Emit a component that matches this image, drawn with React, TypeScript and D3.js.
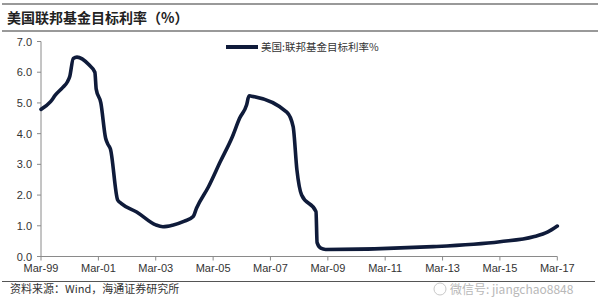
import React from "react";
import * as d3 from "d3";

const dates: string[] = [
  "1999-03-01", "1999-07-01", "1999-09-01", "1999-12-01", "2000-02-01", "2000-03-01",
  "2000-04-15", "2000-06-01", "2000-11-01", "2001-01-15", "2001-02-01", "2001-04-01",
  "2001-06-01", "2001-07-01", "2001-08-01", "2001-11-01", "2001-12-15", "2002-07-01",
  "2003-03-01", "2003-06-01", "2003-10-01", "2004-03-01", "2004-06-20", "2004-08-01",
  "2005-01-01", "2005-06-01", "2005-11-01", "2006-02-01", "2006-05-01", "2006-06-01",
  "2006-07-01", "2007-09-25", "2007-12-15", "2008-02-01", "2008-04-01", "2008-10-01",
  "2008-10-15", "2008-12-01", "2009-02-01", "2012-11-01", "2015-03-01", "2016-05-01",
  "2016-11-01", "2017-03-01",
];
const values: number[] = [
  4.79, 5.04, 5.26, 5.5, 5.69, 5.86,
  6.45, 6.49, 6.24, 6.0, 5.45, 5.0,
  3.85, 3.65, 3.5, 1.84, 1.73, 1.45,
  1.03, 0.97, 1.02, 1.15, 1.3, 1.57,
  2.27, 3.09, 3.9, 4.5, 4.93, 5.23,
  5.22, 4.7, 4.23, 2.82, 2.0, 1.46,
  0.45, 0.27, 0.23, 0.32, 0.48, 0.64,
  0.8, 0.99,
];
const xTickLabels: string[] = [
  "Mar-99", "Mar-01", "Mar-03", "Mar-05", "Mar-07", "Mar-09", "Mar-11", "Mar-13", "Mar-15", "Mar-17",
];
const yTicks: number[] = [0, 1, 2, 3, 4, 5, 6, 7];
const seriesName = "美国:联邦基金目标利率%";
const title = "美国联邦基金目标利率（%）";
const source = "资料来源：Wind，海通证券研究所";
const watermark = "微信号: jiangchao8848";

export default function App() {
  const W = 600, H = 297;
  const parse = d3.timeParse("%Y-%m-%d");
  const tickParse = d3.timeParse("%b-%y");
  const data = dates.map((d, i) => ({ date: parse(d) as Date, value: values[i] }));
  const x = d3.scaleTime()
    .domain([parse("1999-03-01") as Date, parse("2017-03-01") as Date])
    .range([41, 557.3]);
  const y = d3.scaleLinear().domain([0, 7]).range([256.5, 41.5]);
  const line = d3.line<{ date: Date; value: number }>()
    .x((d) => x(d.date))
    .y((d) => y(d.value))
    .curve(d3.curveMonotoneX);
  const tickDates = xTickLabels.map((t) => tickParse(t) as Date);
  const axisColor = "#8a8a8a";
  const labelFont = "Liberation Sans, Arial, sans-serif";
  return (
    <svg width={W} height={H} style={{ position: "absolute", left: 0, top: 0, background: "#fff" }}>
      <rect x={0} y={0} width={W} height={H} fill="#fff" />
      <line x1={2} x2={598} y1={4} y2={4} stroke="#777" strokeWidth={1.6} />
      <text x={7} y={23} fontFamily="Noto Sans CJK SC" fontWeight={700} fontSize={14} fill="#222">{title}</text>
      <line x1={2} x2={598} y1={31} y2={31} stroke="#777" strokeWidth={1.6} />

      {/* y axis */}
      <line x1={41} x2={41} y1={y(7)} y2={y(0)} stroke={axisColor} strokeWidth={1} />
      {yTicks.map((t) => (
        <g key={t}>
          <line x1={37} x2={41} y1={y(t)} y2={y(t)} stroke={axisColor} />
          <text x={32} y={y(t) + 4} textAnchor="end" fontFamily={labelFont} fontSize={11} fill="#333">{t.toFixed(1)}</text>
        </g>
      ))}
      {/* x axis */}
      <line x1={41} x2={x(tickDates[tickDates.length - 1])} y1={y(0)} y2={y(0)} stroke={axisColor} strokeWidth={1} />
      {tickDates.map((d, i) => (
        <g key={i}>
          <line x1={x(d)} x2={x(d)} y1={y(0)} y2={y(0) + 4} stroke={axisColor} />
          <text x={x(d)} y={y(0) + 15} textAnchor="middle" fontFamily={labelFont} fontSize={11} fill="#333">{xTickLabels[i]}</text>
        </g>
      ))}

      <path d={line(data) || ""} fill="none" stroke="#0f1b3a" strokeWidth={3.6} strokeLinejoin="round" strokeLinecap="round" />

      {/* legend */}
      <line x1={226} x2={258} y1={47} y2={47} stroke="#0f1b3a" strokeWidth={4} />
      <text x={261} y={51} fontFamily="Noto Sans CJK SC" fontSize={10.5} fill="#333">{seriesName}</text>

      <line x1={2} x2={595} y1={281.5} y2={281.5} stroke="#555" strokeWidth={1.2} />
      <text x={10} y={293} fontFamily="Noto Sans CJK SC" fontSize={11} fill="#333">{source}</text>

      {/* watermark (moved below the rule so it does not cover the axis labels) */}
      <circle cx={440} cy={289} r={6} fill="#fff" stroke="#c8c8c8" strokeWidth={1} />
      <text x={450} y={294} fontFamily="Noto Sans CJK SC" fontSize={12} fill="#b8b8b8">{watermark}</text>
    </svg>
  );
}
